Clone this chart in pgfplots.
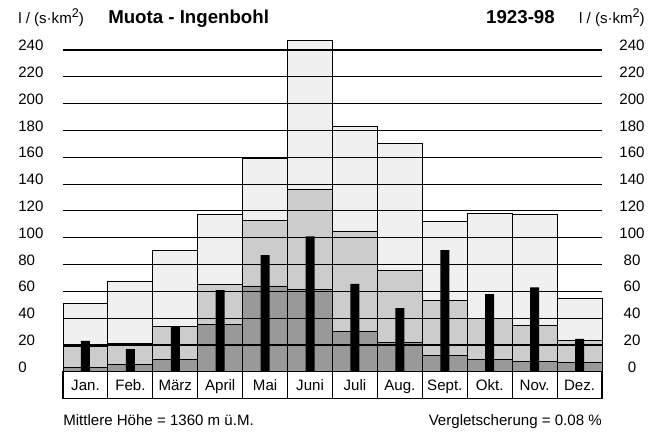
\documentclass[border=0pt]{standalone}
\usepackage{pgfplots}
\pgfplotsset{compat=1.18}
\usepackage{fontspec}
\setmainfont{Liberation Sans}
\definecolor{lightc}{HTML}{F0F0F0}
\definecolor{medc}{HTML}{CCCCCC}
\definecolor{darkc}{HTML}{999999}
\newcommand{\unitlab}{l / (s·km\raisebox{0.75ex}{\fontsize{9.5}{11}\selectfont 2})}
\begin{document}
\begin{tikzpicture}[font=\fontsize{11.3}{13}\selectfont]
\useasboundingbox (-47.25pt,-49.65pt) rectangle (441.75pt,278.85pt);
\begin{axis}[at={(0,0)}, anchor=south west, scale only axis,
  width=404.25pt, height=241.35pt,
  xmin=0, xmax=12, ymin=0, ymax=240,
  axis on top, axis line style={draw=none},
  xtick=\empty, ytick={0,20,...,240}, yticklabels={},
  major tick length=0pt,
  ymajorgrids, major grid style={black, line width=0.85pt},
  clip=false]
\addplot[ybar, bar width=1, bar shift=0, fill=lightc, draw=black, line width=0.7pt] coordinates {
(0.5,51) (1.5,67.5) (2.5,90.5) (3.5,117) (4.5,159) (5.5,247) (6.5,183) (7.5,170.5) (8.5,112) (9.5,118) (10.5,117) (11.5,54.5)};
\addplot[ybar, bar width=1, bar shift=0, fill=medc, draw=black, line width=0.7pt] coordinates {
(0.5,19) (1.5,21) (2.5,33.5) (3.5,65) (4.5,113) (5.5,136) (6.5,105) (7.5,75.5) (8.5,53.5) (9.5,39.5) (10.5,34.5) (11.5,23)};
\addplot[ybar, bar width=1, bar shift=0, fill=darkc, draw=black, line width=0.7pt] coordinates {
(0.5,3.5) (1.5,5.5) (2.5,9) (3.5,35.5) (4.5,64) (5.5,61.5) (6.5,30) (7.5,22) (8.5,12) (9.5,9) (10.5,8) (11.5,6.8)};
\addplot[ybar, bar width=0.2, bar shift=0, fill=black, draw=none] coordinates {
(0.5,23) (1.5,17) (2.5,34) (3.5,61) (4.5,87) (5.5,101) (6.5,65.5) (7.5,47.5) (8.5,90.8) (9.5,58) (10.5,63) (11.5,24.5)};
\end{axis}
% month label row
\draw[line width=0.8pt] (0,0) rectangle (404.25pt,-19.9pt);
\foreach \i in {1,...,11} \draw[line width=0.8pt] ({\i*33.6875pt},0) -- ({\i*33.6875pt},-19.9pt);
\foreach \m [count=\i from 0] in {Jan.,Feb.,März,April,Mai,Juni,Juli,Aug.,Sept.,Okt.,Nov.,Dez.}
  \node[anchor=base, inner sep=0pt] at ({(\i+0.5)*33.6875pt},-14.2pt) {\m};
% tick labels
\foreach \v in {0,20,...,240} {
  \node[anchor=west, inner sep=0pt] at (-33.75pt,{\v*1.005625pt+3.4pt}) {\v};
  \node[inner sep=0pt] at (426.75pt,{\v*1.005625pt+3.4pt}) {\v};
}
% header
\node[anchor=base west, inner sep=0pt] at (-33.75pt,261pt) {\unitlab};
\node[anchor=base east, inner sep=0pt] at (436.5pt,261pt) {\unitlab};
\node[anchor=base west, inner sep=0pt, font=\fontsize{14}{16}\selectfont\bfseries] at (33.75pt,261pt) {Muota - Ingenbohl};
\node[anchor=base east, inner sep=0pt, font=\fontsize{14}{16}\selectfont\bfseries] at (369pt,261pt) {1923-98};
% footer
\node[anchor=base west, inner sep=0pt] at (0pt,-40.4pt) {Mittlere Höhe = 1360 m ü.M.};
\node[anchor=base east, inner sep=0pt] at (404.25pt,-40.4pt) {Vergletscherung = 0.08 \%};
\end{tikzpicture}
\end{document}
